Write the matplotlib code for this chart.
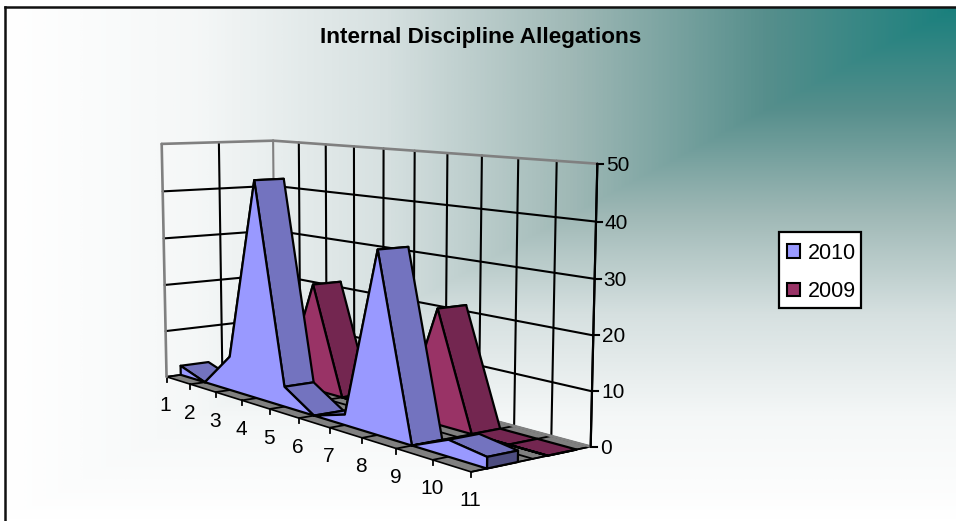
import numpy as np
import matplotlib
matplotlib.use("Agg")
import matplotlib.pyplot as plt
from matplotlib.colors import LinearSegmentedColormap
from matplotlib.patches import Polygon, Patch, Rectangle

plt.rcParams['font.family'] = ['Liberation Sans', 'DejaVu Sans']

# Chart data
categories = ['1', '2', '3', '4', '5', '6', '7', '8', '9', '10', '11']
series_2010 = [2, 0, 7, 44, 4, 0, 2, 34, 0, 3, 2]
series_2009 = [0, 0, 1, 22, 0, 0, 0, 22, 0, 0, 0]
value_ticks = [0, 10, 20, 30, 40, 50]
title_text = 'Internal Discipline Allegations'

W, H = 956, 521
fig = plt.figure(figsize=(W / 100, H / 100), dpi=100, facecolor='white')
ax = fig.add_axes([0, 0, 1, 1])
ax.set_xlim(0, W)
ax.set_ylim(H, 0)
ax.axis('off')

# Corner-style background gradient
gx, gy = np.meshgrid(np.linspace(0, 1, W), np.linspace(0, 1, H))
corner = np.minimum(gx, 1 - gy)
bg_cmap = LinearSegmentedColormap.from_list('bg', [
    (0.0, (1, 1, 1)),
    (0.2, (0.96, 0.97, 0.97)),
    (0.4, (0.84, 0.88, 0.88)),
    (0.6, (0.62, 0.72, 0.71)),
    (0.8, (0.34, 0.56, 0.55)),
    (1.0, (0.10, 0.50, 0.49)),
])
ax.imshow(corner, cmap=bg_cmap, vmin=0, vmax=1, extent=(5, W, H, 7),
          aspect='auto', zorder=0, interpolation='bilinear')
ax.set_xlim(0, W)
ax.set_ylim(H, 0)
ax.plot([5, 5], [H, 7], color='#111111', lw=1.8, zorder=1, solid_capstyle='projecting')
ax.plot([5, W], [7, 7], color='#111111', lw=1.8, zorder=1, solid_capstyle='projecting')

# Perspective camera for the chart box, solved from the box frame.
# Box coordinates: u = category index, d = depth 0..1, v = value.
frame = [
    ((0, 0, 0), (166, 377)), ((10, 0, 0), (471, 472)),
    ((10, 1, 0), (590, 447)), ((0, 1, 0), (276, 362)),
    ((0, 0, 50), (162, 144)), ((0, 1, 50), (272.5, 140)),
    ((10, 1, 50), (598, 164)), ((10, 1, 30), (595, 278)),
    ((10, 1, 20), (593.5, 335)), ((10, 1, 10), (592, 391)),
    ((5, 1, 50), (414, 152)), ((0, 0, 30), (164, 238)),
]
rows = []
for (u, d, v), (x, y) in frame:
    rows.append([u, d, v, 1, 0, 0, 0, 0, -x * u, -x * d, -x * v, -x])
    rows.append([0, 0, 0, 0, u, d, v, 1, -y * u, -y * d, -y * v, -y])
scale = np.array([10, 1, 50, 1, 10, 1, 50, 1, 10, 1, 50, 1], dtype=float)
_, _, vt = np.linalg.svd(np.array(rows, dtype=float) * scale)
CAM = (vt[-1] * scale).reshape(3, 4)


def project(u, d, v):
    p = CAM @ np.array([u, d, v, 1.0])
    return p[0] / p[2], p[1] / p[2]


def seg(a, b, color='black', lw=1.5, z=2):
    pa, pb = project(*a), project(*b)
    ax.plot([pa[0], pb[0]], [pa[1], pb[1]], color=color, lw=lw, zorder=z,
            solid_capstyle='round')


n = len(categories)
GRAY = '#808080'
LABEL_SIZE = 15

# Floor
ax.add_patch(Polygon([project(0, 0, 0), project(n - 1, 0, 0),
                      project(n - 1, 1, 0), project(0, 1, 0)],
                     closed=True, fc=GRAY, ec='black', lw=1.2, zorder=2))
for u in range(n):
    seg((u, 0, 0), (u, 1, 0), z=2.1, lw=1.3)
    # Back wall verticals
    seg((u, 1, 0), (u, 1, 50), z=2.1, lw=1.5, color='black' if 0 < u else GRAY)
    # Category ticks and labels
    px, py = project(u, 0, 0)
    ax.plot([px, px], [py, py + 5], color='black', lw=1.3, zorder=2.1)
    ax.text(px - 1, py + 29, categories[u], ha='center', va='center',
            fontsize=LABEL_SIZE, color='black', zorder=6)
seg((0, 0.5, 0), (n - 1, 0.5, 0), z=2.1, lw=1.3)

# Walls: gridlines at each value tick, grey outline along the top
for v in value_ticks[1:-1]:
    seg((0, 0, v), (0, 1, v), z=2.1, lw=1.5)
    seg((0, 1, v), (n - 1, 1, v), z=2.1, lw=1.5)
seg((0, 0.5, 0), (0, 0.5, 50), z=2.1, lw=1.5)
seg((0, 0, 0), (0, 0, 50), color=GRAY, lw=1.9, z=2.2)
seg((0, 0, 50), (0, 1, 50), color=GRAY, lw=1.9, z=2.2)
seg((0, 1, 50), (n - 1, 1, 50), color=GRAY, lw=1.9, z=2.2)
seg((0, 1, 0), (n - 1, 1, 0), color=GRAY, lw=1.9, z=2.2)

# Value axis on the right-hand edge
seg((n - 1, 1, 0), (n - 1, 1, 50), z=2.3, lw=1.6)
for v in value_ticks:
    px, py = project(n - 1, 1, v)
    ax.plot([px, px + 6], [py, py], color='black', lw=1.5, zorder=2.3)
    ax.text(px + 9, py + 1.5, str(v), ha='left', va='center', fontsize=LABEL_SIZE,
            color='black', zorder=6)


def draw_area(values, d0, d1, front, top, side, z):
    """Extruded area between depths d0 and d1, painted from far to near."""
    edge = dict(ec='black', lw=1.6, joinstyle='round')
    for i in range(n - 1):
        quad = [project(i, d0, values[i]), project(i + 1, d0, values[i + 1]),
                project(i + 1, d1, values[i + 1]), project(i, d1, values[i])]
        ax.add_patch(Polygon(quad, closed=True, fc=top, zorder=z, **edge))
    last = values[-1]
    ax.add_patch(Polygon([project(n - 1, d0, 0), project(n - 1, d1, 0),
                          project(n - 1, d1, last), project(n - 1, d0, last)],
                         closed=True, fc=side, zorder=z, **edge))
    outline = [project(0, d0, 0)]
    outline += [project(i, d0, values[i]) for i in range(n)]
    outline += [project(n - 1, d0, 0)]
    ax.add_patch(Polygon(outline, closed=True, fc=front, zorder=z + 0.1, **edge))


draw_area(series_2009, 0.625, 0.875, '#993366', '#732650', '#4D1A33', 3)
draw_area(series_2010, 0.125, 0.375, '#9999FF', '#7373BF', '#4D4D80', 4)

ax.text(480.5, 37, title_text, ha='center', va='center', fontsize=16.2,
        fontweight='bold', color='black', zorder=6)

# Legend box with its entries set inside
ax.add_patch(Rectangle((779.5, 231.5), 81.5, 76.5, fc='white', ec='black',
                       lw=1.6, zorder=6.5))
handles = [Patch(fc='#9999FF', ec='black', lw=1.5, label='2010'),
           Patch(fc='#993366', ec='black', lw=1.5, label='2009')]
leg = ax.legend(handles=handles, loc='center', bbox_to_anchor=(821.5, 272.5),
                bbox_transform=ax.transData, fontsize=15.5, frameon=False,
                handlelength=0.6, handleheight=0.6, handletextpad=0.4,
                labelspacing=0.8, borderpad=0, borderaxespad=0)
leg.set_zorder(7)

fig.savefig('out.png', dpi=100)
